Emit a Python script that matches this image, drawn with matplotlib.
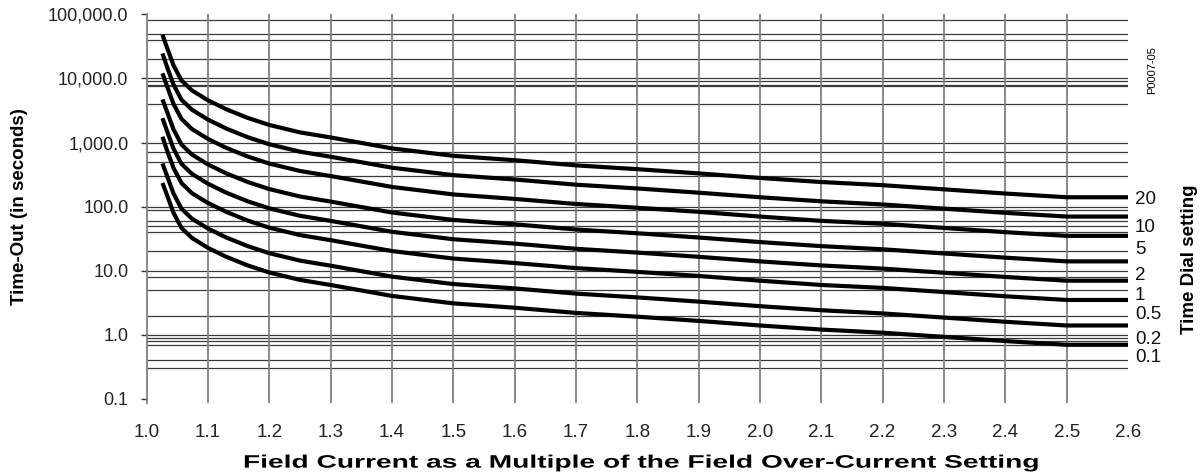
import matplotlib
matplotlib.use("Agg")
import matplotlib.pyplot as plt
from matplotlib import patheffects
from matplotlib.ticker import FixedLocator, FuncFormatter
from matplotlib.transforms import Affine2D, blended_transform_factory

# field current multiple (x) shared by all curves
multiple = [1.026, 1.033, 1.044, 1.057, 1.074, 1.10, 1.13, 1.165, 1.2, 1.25,
            1.3, 1.4, 1.5, 1.6, 1.7, 1.8, 1.9, 2.0, 2.1, 2.2, 2.3, 2.4, 2.5, 2.6]

# time-out in seconds, one list per time dial setting
td_20 = [48000, 31000, 16000, 9300, 6500, 4560, 3300, 2420, 1880, 1440,
         1200, 810, 620, 530, 440, 384, 330, 280, 242, 216, 186, 160, 140, 140]
td_10 = [24500, 15500, 8000, 4650, 3250, 2280, 1650, 1210, 940, 720,
         600, 405, 310, 265, 220, 192, 165, 140, 121, 108, 93, 80, 70, 70]
td_5 = [12000, 7750, 4000, 2330, 1620, 1140, 825, 605, 470, 360,
        300, 203, 155, 132, 110, 96, 83, 70, 60, 54, 46.5, 40, 35, 35]
td_2 = [4700, 3100, 1600, 930, 650, 456, 330, 242, 188, 144,
        120, 81, 62, 53, 44, 38.4, 33, 28, 24.2, 21.6, 18.6, 16, 14, 14]
td_1 = [2400, 1550, 800, 465, 325, 228, 165, 121, 94, 72,
        60, 40.5, 31, 26.5, 22, 19.2, 16.5, 14, 12.1, 10.8, 9.3, 8.0, 7.0, 7.0]
td_05 = [1230, 775, 400, 233, 162, 114, 83, 60.5, 47, 36,
         30, 20.3, 15.5, 13.2, 11, 9.6, 8.3, 7.0, 6.0, 5.4, 4.65, 4.0, 3.5, 3.5]
td_02 = [470, 310, 160, 93, 65, 45.6, 33, 24.2, 18.8, 14.4,
         12, 8.1, 6.2, 5.3, 4.4, 3.84, 3.3, 2.8, 2.42, 2.16, 1.86, 1.6, 1.4, 1.4]
td_01 = [234, 155, 80, 46.5, 32.5, 22.8, 16.5, 12.1, 9.4, 7.2,
         6.0, 4.05, 3.1, 2.65, 2.2, 1.92, 1.65, 1.4, 1.21, 1.08, 0.93, 0.80, 0.70, 0.70]

curves = [td_20, td_10, td_5, td_2, td_1, td_05, td_02, td_01]
dial_labels = ["20", "10", "5", "2", "1", "0.5", "0.2", "0.1"]
label_y = [130, 47.5, 21.5, 8.3, 4.04, 2.07, 0.86, 0.437]

# horizontal rules of the original sheet
grid_levels = [80000, 50000, 40000, 20000, 10000, 9000, 8000, 7500, 4000,
               1000, 700, 500, 300, 100, 90, 60, 50, 40, 20, 10, 8, 5, 2,
               1, 0.9, 0.8, 0.7, 0.4, 0.3]

x_ticks = [1.0, 1.1, 1.2, 1.3, 1.4, 1.5, 1.6, 1.7, 1.8, 1.9, 2.0,
           2.1, 2.2, 2.3, 2.4, 2.5, 2.6]
y_ticks = [0.1, 1, 10, 100, 1000, 10000, 100000]


class Stretch(patheffects.AbstractPathEffect):
    # the x axis title in the original is drawn wider than normal
    def __init__(self, sx):
        super().__init__()
        self.sx = sx

    def draw_path(self, renderer, gc, tpath, affine, rgbFace=None):
        renderer.draw_path(gc, tpath, Affine2D().scale(self.sx, 1.0) + affine, rgbFace)


plt.rcParams['font.family'] = ['Liberation Sans', 'DejaVu Sans']

fig = plt.figure(figsize=(12.01, 4.76), dpi=100)
ax = fig.add_axes([0.122, 0.1534, 0.8172, 0.8166])

ax.set_yscale('log')
ax.set_xlim(1.0, 2.6)
ax.set_ylim(0.0866, 100000)

for v in grid_levels:
    ax.axhline(v, color='#3a3a3a', lw=0.9, zorder=1)
for xv in x_ticks[1:-1]:
    ax.axvline(xv, color='#808080', lw=1.3, zorder=1)

for vals in curves:
    ax.plot(multiple, vals, color='black', lw=3.0, solid_capstyle='butt',
            clip_on=False, zorder=3)

trans = blended_transform_factory(ax.transAxes, ax.transData)
for lab, yv in zip(dial_labels, label_y):
    ax.text(1.007, yv, lab, transform=trans, ha='left', va='center',
            fontsize=13.5, color='#111111')

for side in ['top', 'right', 'bottom']:
    ax.spines[side].set_visible(False)
ax.spines['left'].set_color('#808080')
ax.spines['left'].set_linewidth(1.3)

ax.xaxis.set_major_locator(FixedLocator(x_ticks))
ax.xaxis.set_major_formatter(FuncFormatter(lambda v, p: "%.1f" % v))
ax.xaxis.set_minor_locator(FixedLocator([x_ticks[-1]]))
ax.tick_params(axis='x', which='major', length=0, pad=15, labelsize=13.5,
               labelcolor='#222222')
ax.tick_params(axis='x', which='minor', direction='in', length=8, width=1.2,
               color='#555555')

ax.yaxis.set_major_locator(FixedLocator(y_ticks))
ax.yaxis.set_minor_locator(FixedLocator([]))
ax.yaxis.set_major_formatter(FuncFormatter(lambda v, p: "{:,.1f}".format(v)))
ax.tick_params(axis='y', which='major', length=4.5, width=1.0, pad=8.5,
               labelsize=13, color='#333333', labelcolor='#222222')

fig.text(0.0165, 0.567, "Time-Out (in seconds)", rotation=90, ha='center',
         va='center', fontsize=13.5, fontweight='bold')
fig.text(0.2023, 0.027, "Field Current as a Multiple of the Field Over-Current Setting",
         ha='left', va='center', fontsize=13, fontweight='bold',
         path_effects=[Stretch(1.56)])
fig.text(0.9908, 0.455, "Time Dial setting", rotation=90, ha='center',
         va='center', fontsize=13.5, fontweight='bold')
fig.text(0.959, 0.852, "P0007-05", rotation=90, ha='center', va='center',
         fontsize=8)

fig.savefig('out.png', dpi=100)
